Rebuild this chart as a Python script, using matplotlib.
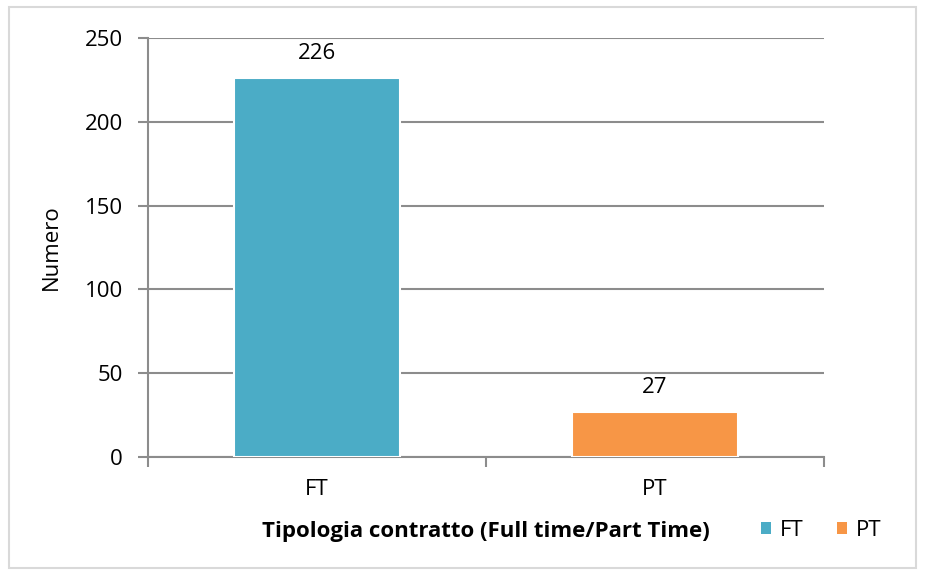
import matplotlib
matplotlib.use("Agg")
import matplotlib.pyplot as plt
from matplotlib.patches import Rectangle, Patch

categories = ["FT", "PT"]
values = [226, 27]
colors = ["#4BACC6", "#F79646"]
yticks = [0, 50, 100, 150, 200, 250]

plt.rcParams['font.family'] = ['Open Sans', 'DejaVu Sans']
FS = 16

W, H = 925, 576
fig = plt.figure(figsize=(W/100, H/100), dpi=100)
ax = fig.add_axes([148/W, 1-457/H, (824-148)/W, (457-38)/H])

x = list(range(len(categories)))
bars = ax.bar(x, values, width=0.49, color=colors, edgecolor="white", linewidth=1.5, zorder=3)
for xi, v in zip(x, values):
    ax.text(xi, v + 14.5, str(v), ha="center", va="center", fontsize=FS, color="black")

ax.set_xlim(-0.5, 1.5)
ax.set_ylim(0, 250)
ax.set_yticks(yticks)
ax.set_yticklabels([str(t) for t in yticks], fontsize=FS)
ax.yaxis.grid(True, color="#8c8c8c", linewidth=1.5, zorder=0)
ax.set_axisbelow(True)

ax.set_xticks([-0.5, 0.5, 1.5])
ax.set_xticklabels([])
ax.set_xticks(x, minor=True)
ax.set_xticklabels(categories, minor=True, fontsize=FS)
ax.tick_params(axis="x", which="minor", length=0, pad=16)
ax.tick_params(axis="x", which="major", length=7, color="#8c8c8c", width=1.5)
ax.tick_params(axis="y", length=7, color="#8c8c8c", width=1.5, pad=11)

for s in ["top", "right"]:
    ax.spines[s].set_visible(False)
for s in ["left", "bottom"]:
    ax.spines[s].set_color("#8c8c8c")
    ax.spines[s].set_linewidth(1.5)

ax.set_ylabel("Numero", fontsize=FS)
ax.yaxis.set_label_coords((62-148)/676, 0.5)

fig.text(486/W, 1-531/H, "Tipologia contratto (Full time/Part Time)", ha="center", va="center",
         fontsize=FS, fontweight="bold")

handles = [Patch(facecolor=c, edgecolor="none") for c in colors]
leg = fig.legend(handles, categories, loc="center left", bbox_to_anchor=(761/W, 1-530/H),
                 ncol=2, frameon=False, fontsize=FS, handlelength=0.45, handleheight=0.45,
                 handletextpad=0.4, columnspacing=1.5, borderaxespad=0, borderpad=0)

fig.patches.append(Rectangle((9/W, 1-568/H), (916-9)/W, (568-7)/H, transform=fig.transFigure,
                             fill=False, edgecolor="#d9d9d9", linewidth=1.5))

fig.savefig("out.png", dpi=100)
